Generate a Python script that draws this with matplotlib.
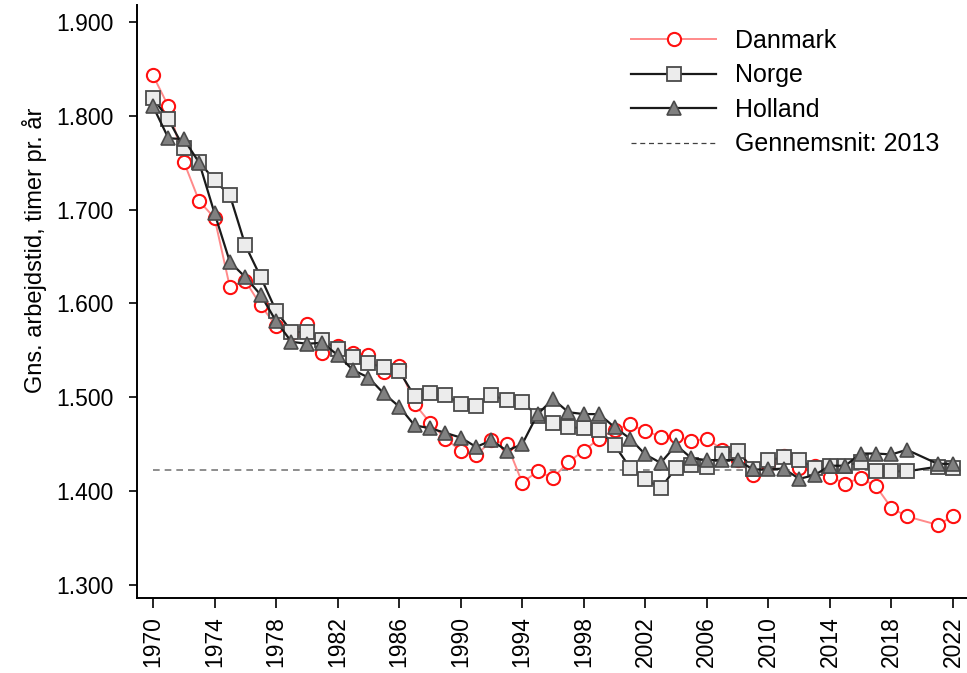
import matplotlib
matplotlib.use("Agg")
import matplotlib.pyplot as plt
from matplotlib.ticker import FuncFormatter

plt.rcParams['font.family'] = ['Liberation Sans', 'DejaVu Sans']

# 2020 is not in the series (lines jump from 2019 to 2021)
years = list(range(1970, 2020)) + [2021, 2022]

danmark = [1843, 1810, 1751, 1709, 1691, 1617, 1624, 1598, 1576, 1568,
           1578, 1547, 1555, 1547, 1545, 1527, 1533, 1493, 1473, 1456,
           1443, 1438, 1454, 1450, 1409, 1421, 1414, 1431, 1443, 1456,
           1465, 1471, 1464, 1458, 1459, 1453, 1456, 1444, 1433, 1417,
           1429, 1437, 1425, 1427, 1415, 1408, 1414, 1405, 1382, 1373,
           1364, 1373]

norge = [1819, 1796, 1766, 1751, 1731, 1715, 1662, 1628, 1592, 1570,
         1569, 1561, 1551, 1543, 1536, 1532, 1528, 1501, 1504, 1502,
         1493, 1491, 1502, 1497, 1495, 1480, 1473, 1468, 1467, 1465,
         1449, 1425, 1413, 1403, 1425, 1428, 1426, 1440, 1443, 1423,
         1433, 1436, 1433, 1425, 1427, 1427, 1431, 1421, 1421, 1421,
         1426, 1425]

holland = [1810, 1776, 1775, 1750, 1696, 1644, 1628, 1609, 1581, 1559,
           1557, 1558, 1545, 1529, 1521, 1504, 1490, 1470, 1467, 1462,
           1457, 1447, 1454, 1443, 1450, 1482, 1498, 1484, 1482, 1482,
           1468, 1456, 1439, 1430, 1449, 1435, 1433, 1433, 1433, 1423,
           1423, 1424, 1413, 1417, 1427, 1427, 1440, 1440, 1439, 1444,
           1429, 1429]

avg_2013 = 1422
avg_span = [1970, 2022]
xticks = list(range(1970, 2023, 4))
yticks = [1300, 1400, 1500, 1600, 1700, 1800, 1900]

fig = plt.figure(figsize=(9.67, 6.73), dpi=100)
ax = fig.add_axes([0.1417, 0.1114, 0.8583, 0.8812])

ax.plot(years, danmark, color="#FF8A8A", linewidth=1.4, marker="o",
        markersize=9.5, markerfacecolor="white", markeredgecolor="#FF1010",
        markeredgewidth=1.5, label="Danmark", zorder=3)
ax.plot(years, norge, color="#1A1A1A", linewidth=1.6, marker="s",
        markersize=10, markerfacecolor="#ECECEC", markeredgecolor="#4A4A4A",
        markeredgewidth=1.3, label="Norge", zorder=4)
ax.plot(years, holland, color="#1A1A1A", linewidth=1.6, marker="^",
        markersize=10.5, markerfacecolor="#808080", markeredgecolor="#4A4A4A",
        markeredgewidth=1.2, label="Holland", zorder=5)
ax.plot(avg_span, [avg_2013, avg_2013], color="#7A7A7A", linewidth=1.2,
        linestyle=(0, (4, 3)), zorder=2)
# legend entry for the average line is drawn thinner and darker
ax.plot([], [], color="#404040", linewidth=0.9, linestyle=(0, (4, 3)),
        label="Gennemsnit: 2013")

ax.set_xlim(1968.96, 2022.91)
ax.set_ylim(1286, 1918)
ax.set_xticks(xticks)
ax.set_yticks(yticks)
ax.yaxis.set_major_formatter(FuncFormatter(lambda v, p: f"{v:,.0f}".replace(",", ".")))
ax.tick_params(axis="x", labelrotation=90, labelsize=16.5, direction="out",
               length=7, width=1.2, pad=6)
ax.tick_params(axis="y", labelsize=16.5, direction="out", length=6,
               width=1.2, pad=11)

for s in ["top", "right"]:
    ax.spines[s].set_visible(False)
for s in ["left", "bottom"]:
    ax.spines[s].set_linewidth(1.4)

ax.set_ylabel("Gns. arbejdstid, timer pr. år", fontsize=17)
ax.yaxis.set_label_coords(-0.108, 0.587)

ax.legend(loc="upper right", frameon=False, fontsize=18, handlelength=3.4,
          handletextpad=0.75, labelspacing=0.42, borderaxespad=0.2,
          bbox_to_anchor=(0.985, 0.985))

fig.savefig("out.png", dpi=100)
